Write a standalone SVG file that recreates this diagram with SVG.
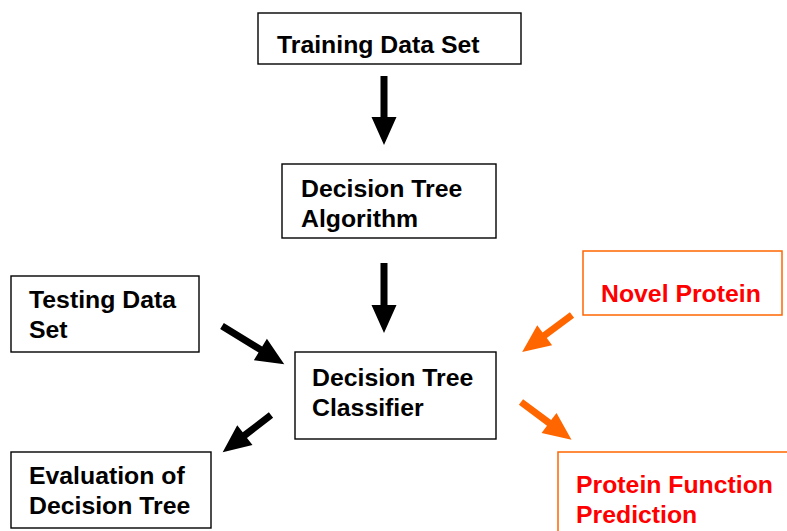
<svg xmlns="http://www.w3.org/2000/svg" width="787" height="531" viewBox="0 0 787 531">
<style>
.box{fill:#fff;stroke:#000;stroke-width:1.4}
.obox{fill:#fff;stroke:#FF6600;stroke-width:1.5}
.t{font-family:"Liberation Sans",Arial,sans-serif;font-weight:bold;font-size:24.8px;fill:#000}
.rt{font-family:"Liberation Sans",Arial,sans-serif;font-weight:bold;font-size:24.8px;fill:#FF0000}
.ka{fill:#000}
.oa{fill:#FF6600}
</style>
<rect width="787" height="531" fill="#fff"/>
<g id="training"><rect class="box" x="258" y="13" width="263" height="51"/><text class="t" x="277" y="53">Training Data Set</text></g>
<g id="algorithm"><rect class="box" x="282" y="164" width="214" height="74"/><text class="t" x="301" y="197">Decision Tree</text><text class="t" x="301" y="227">Algorithm</text></g>
<g id="testing"><rect class="box" x="11" y="276" width="188" height="76"/><text class="t" x="29" y="308">Testing Data</text><text class="t" x="29" y="338">Set</text></g>
<g id="classifier"><rect class="box" x="295" y="352" width="201" height="87"/><text class="t" x="312" y="386">Decision Tree</text><text class="t" x="312" y="416">Classifier</text></g>
<g id="evaluation"><rect class="box" x="11" y="452" width="200" height="76"/><text class="t" x="29" y="484">Evaluation of</text><text class="t" x="29" y="514">Decision Tree</text></g>
<g id="novel"><rect class="obox" x="583" y="251" width="199" height="64"/><text class="rt" x="601" y="302">Novel Protein</text></g>
<g id="prediction"><rect class="obox" x="558" y="452" width="235" height="85"/><text class="rt" x="576" y="493">Protein Function</text><text class="rt" x="576" y="523">Prediction</text></g>
<g id="connectors">
<path class="ka" transform="translate(384,76) rotate(90)" d="M0,-3.5 H41 V-12.5 L69,0 L41,12.5 V3.5 H0 Z"/>
<path class="ka" transform="translate(384,263) rotate(90)" d="M0,-3.5 H42 V-12.5 L70,0 L42,12.5 V3.5 H0 Z"/>
<path class="ka" transform="translate(222,326) rotate(31.5)" d="M0,-3.5 H45 V-12.5 L73,0 L45,12.5 V3.5 H0 Z"/>
<path class="ka" transform="translate(271,415) rotate(142.4)" d="M0,-3.5 H33 V-12.5 L61,0 L33,12.5 V3.5 H0 Z"/>
<path class="oa" transform="translate(572,315) rotate(143.5)" d="M0,-3.5 H34 V-12.5 L62,0 L34,12.5 V3.5 H0 Z"/>
<path class="oa" transform="translate(521,402) rotate(36.7)" d="M0,-3.5 H35 V-12.5 L63,0 L35,12.5 V3.5 H0 Z"/>
</g>
</svg>
